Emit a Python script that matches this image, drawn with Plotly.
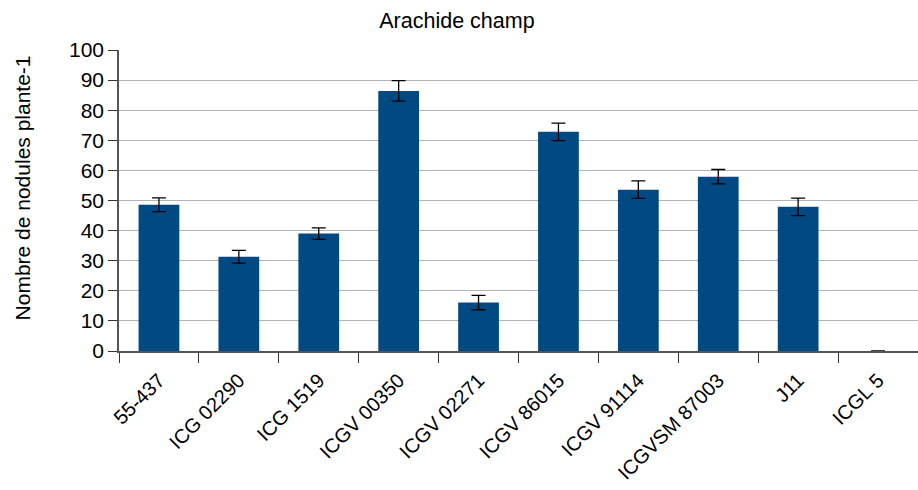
import plotly.graph_objects as go

categories = ["55-437", "ICG 02290", "ICG 1519", "ICGV 00350", "ICGV 02271",
              "ICGV 86015", "ICGV 91114", "ICGVSM 87003", "J11", "ICGL 5"]
values = [48.6, 31.3, 39.0, 86.4, 16.1, 72.8, 53.6, 57.9, 47.9, 0.0]
errors = [2.3, 2.1, 1.9, 3.4, 2.4, 2.9, 2.9, 2.4, 2.9, 0.0]

font_family = "Liberation Sans, Arial, sans-serif"

fig = go.Figure(go.Bar(
    x=categories, y=values,
    marker=dict(color="#004983", line=dict(width=0)),
    width=0.51,
    error_y=dict(type="data", array=errors, visible=True,
                 color="#000000", thickness=1.3, width=7),
))

fig.update_layout(
    width=918, height=490,
    margin=dict(l=119, r=0, t=50, b=139, autoexpand=False),
    paper_bgcolor="white", plot_bgcolor="white",
    font=dict(family=font_family, size=20, color="#000000"),
    title=dict(text="Arachide champ", x=0.4978, xanchor="center", xref="container",
               y=0.959, yanchor="middle", yref="container",
               font=dict(size=21.5, family=font_family)),
    showlegend=False,
)
fig.update_xaxes(
    type="category", tickangle=-45, tickson="boundaries",
    ticks="outside", ticklen=10, tickcolor="#333333", tickwidth=1,
    showline=True, linecolor="#555555", linewidth=1.5,
    showgrid=False, tickfont=dict(size=20), automargin=False,
    ticklabelstandoff=8,
)
fig.update_yaxes(
    range=[0, 100], dtick=10, tick0=0,
    ticks="outside", ticklen=9, tickcolor="#333333", tickwidth=1,
    showline=True, linecolor="#555555", linewidth=1.5,
    showgrid=True, gridcolor="#b3b3b3", gridwidth=1,
    zeroline=False, tickfont=dict(size=21), automargin=False,
)
# y title: centred at page x~22, y~188
fig.add_annotation(
    text="Nombre de nodules plante-1", textangle=-90,
    xref="paper", yref="paper", x=-0.1214, y=0.54,
    xanchor="center", yanchor="middle", showarrow=False,
    font=dict(size=21, family=font_family),
)

fig.write_html(
    "out.html",
    config={"displayModeBar": False},
    post_script="document.body.style.margin='0';document.body.style.overflow='hidden';",
)
